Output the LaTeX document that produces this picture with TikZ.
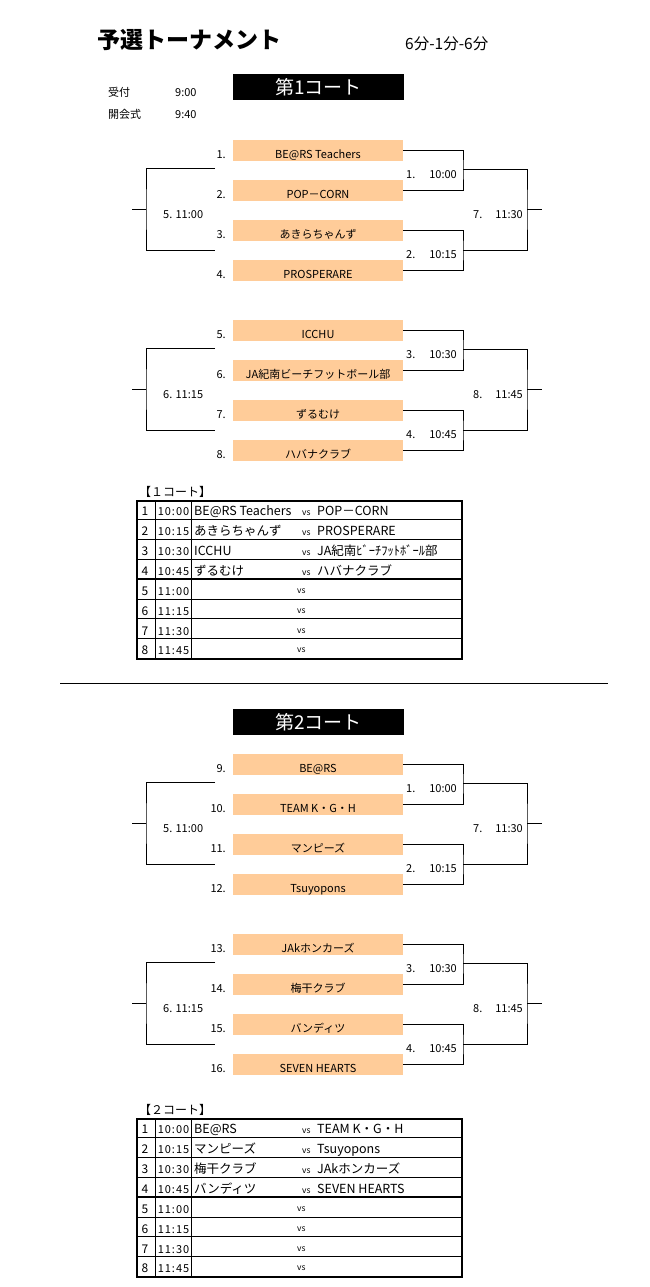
\documentclass[tikz,border=0pt]{standalone}
\usepackage{fontspec}
\setmainfont{Noto Sans CJK JP}
\newfontfamily\timefont[LetterSpace=9]{Noto Sans CJK JP}
\definecolor{peach}{RGB}{255,204,153}

\tikzset{
  team/.style={fill=peach, minimum width=170pt, minimum height=21pt, inner sep=0pt,
    text height=15pt, text depth=0pt, font=\fontsize{11}{13}\selectfont},
  seed/.style={anchor=base east, inner sep=0pt, font=\fontsize{11}{13}\selectfont},
  lbl/.style={inner sep=0pt, font=\fontsize{11}{13}\selectfont},
  court/.style={fill=black, text=white, minimum width=171pt, minimum height=26pt,
    inner sep=0pt, font=\fontsize{19}{21}\selectfont},
  bline/.style={line width=1pt},
  cell/.style={anchor=base, inner sep=0pt, font=\fontsize{12}{14}\selectfont},
  celltime/.style={cell, font=\timefont\fontsize{11}{13}\selectfont},
  cellname/.style={cell, anchor=base west, font=\fontsize{12.5}{14}\selectfont},
  vs/.style={anchor=base west, inner sep=0pt, font=\fontsize{8.5}{9}\selectfont},
  frame/.style={draw, line width=2pt, minimum width=325pt, minimum height=158.4pt, inner sep=0pt},
}

\begin{document}
\begin{tikzpicture}[x=1pt, y=-1pt]
    \useasboundingbox (0,0) rectangle (650,1287);

    % heading
    \node [anchor=base west, inner sep=0pt, font=\fontsize{23}{26}\selectfont\bfseries] (title) at (97,49) {予選トーナメント};
    \node [lbl, anchor=base west, font=\fontsize{15.5}{17}\selectfont] (timing) at (405,50) {6分-1分-6分};
    \node [lbl, anchor=base west] (uketsuke) at (108,97) {受付};
    \node [lbl, anchor=base west] (uketime) at (175,97) {9:00};
    \node [lbl, anchor=base west] (kaikai) at (108,118) {開会式};
    \node [lbl, anchor=base west] (kaitime) at (175,118) {9:40};

    \node [court] (court1) at (318.5,87) {第1コート};
    \node [court] (court2) at (318.5,722) {第2コート};

    \draw [line width=1pt] (60,683) -- (608,683);

    % teams
    \foreach \n/\y/\name in {
        1/140/BE@RS Teachers, 2/180/POP－CORN, 3/220/あきらちゃんず, 4/260/PROSPERARE,
        5/320/ICCHU, 6/360/JA紀南ビーチフットボール部, 7/400/ずるむけ, 8/440/ハバナクラブ,
        9/754/BE@RS, 10/794/TEAM K・G・H, 11/834/マンピーズ, 12/874/Tsuyopons,
        13/934/JAkホンカーズ, 14/974/梅干クラブ, 15/1014/バンディツ, 16/1054/SEVEN HEARTS}{
        \node [team] (t\n) at (318,\y+10.5) {\name};
        \node [seed] (s\n) at (226,\y+18) {\n.};
    }

    % brackets
    \foreach \g/\fa/\gy/\na/\ta/\nb/\tb/\ltx/\nr/\tr in {
        1/1/140/1./10:00/2./10:15/5. 11:00/7./11:30,
        2/5/320/3./10:30/4./10:45/6. 11:15/8./11:45,
        3/9/754/1./10:00/2./10:15/5. 11:00/7./11:30,
        4/13/934/3./10:30/4./10:45/6. 11:15/8./11:45}{
        \pgfmathtruncatemacro\ib{\fa+1}
        \pgfmathtruncatemacro\ic{\fa+2}
        \pgfmathtruncatemacro\id{\fa+3}
        \coordinate (ru\g) at (463,\gy+29);
        \coordinate (rl\g) at (463,\gy+110.5);
        \coordinate (rm\g) at (527,\gy+69.5);
        \coordinate (re\g) at (542,\gy+69.5);
        \coordinate (lu\g) at (215,\gy+28.5);
        \coordinate (ll\g) at (215,\gy+110.5);
        \coordinate (lm\g) at (146,\gy+69.5);
        \coordinate (le\g) at (132,\gy+69.5);

        \draw [bline] (t\fa.east) -| (ru\g) |- (t\ib.east);
        \draw [bline] (t\ic.east) -| (rl\g) |- (t\id.east);
        \draw [bline] (ru\g) -| (rm\g) |- (rl\g);
        \draw [bline] (rm\g) -- (re\g);
        \draw [bline] (lu\g) -| (lm\g) |- (ll\g);
        \draw [bline] (lm\g) -- (le\g);

        \node [lbl, anchor=base west] (ma\g) at (406,\gy+38) {\na};
        \node [lbl, anchor=base east] (mta\g) at (457,\gy+38) {\ta};
        \node [lbl, anchor=base west] (mb\g) at (406,\gy+118) {\nb};
        \node [lbl, anchor=base east] (mtb\g) at (457,\gy+118) {\tb};
        \node [lbl, anchor=base west] (ml\g) at (163,\gy+78) {\ltx};
        \node [lbl, anchor=base west] (mr\g) at (473,\gy+78) {\nr};
        \node [lbl, anchor=base east] (mtr\g) at (523,\gy+78) {\tr};
    }

    % match tables
    \foreach \k/\ty/\hd in {1/500/【１コート】, 2/1118/【２コート】}{
        \node [lbl, anchor=base west, font=\fontsize{12}{14}\selectfont] (hd\k) at (139,\ty-4) {\hd};
        \node [frame, anchor=north west] (tab\k) at (136,\ty) {};
        \foreach \j in {1,...,7}
            \draw [line width=0.8pt] (136,\ty+\j*19.8) -- (461,\ty+\j*19.8);
        \draw [line width=2pt] (136,\ty+4*19.8) -- (461,\ty+4*19.8);
        \draw [line width=0.8pt] (155,\ty) -- (155,\ty+158.4);
        \draw [line width=0.8pt] (191,\ty) -- (191,\ty+158.4);
        \foreach \r/\tm in {5/11:00, 6/11:15, 7/11:30, 8/11:45}{
            \node [cell] (no\k-\r) at (145,\ty+\r*19.8-3.5) {\r};
            \node [celltime] (tm\k-\r) at (173.5,\ty+\r*19.8-3.5) {\tm};
            \node [vs] (vs\k-\r) at (297,\ty+\r*19.8-5.5) {vs};
        }
    }
    \foreach \r/\tm/\ha/\hb in {
        1/10:00/BE@RS Teachers/POP－CORN, 2/10:15/あきらちゃんず/PROSPERARE,
        3/10:30/ICCHU/JA紀南ﾋﾞｰﾁﾌｯﾄﾎﾞｰﾙ部, 4/10:45/ずるむけ/ハバナクラブ}{
        \node [cell] (no1-\r) at (145,500+\r*19.8-4) {\r};
        \node [celltime] (tm1-\r) at (173.5,500+\r*19.8-4) {\tm};
        \node [cellname] (ha1-\r) at (194,500+\r*19.8-4) {\ha};
        \node [vs] (vs1-\r) at (302,500+\r*19.8-4) {vs};
        \node [cellname] (hb1-\r) at (317,500+\r*19.8-4) {\hb};
    }
    \foreach \r/\tm/\ha/\hb in {
        1/10:00/BE@RS/TEAM K・G・H, 2/10:15/マンピーズ/Tsuyopons,
        3/10:30/梅干クラブ/JAkホンカーズ, 4/10:45/バンディツ/SEVEN HEARTS}{
        \node [cell] (no2-\r) at (145,1118+\r*19.8-4) {\r};
        \node [celltime] (tm2-\r) at (173.5,1118+\r*19.8-4) {\tm};
        \node [cellname] (ha2-\r) at (194,1118+\r*19.8-4) {\ha};
        \node [vs] (vs2-\r) at (302,1118+\r*19.8-4) {vs};
        \node [cellname] (hb2-\r) at (317,1118+\r*19.8-4) {\hb};
    }
\end{tikzpicture}
\end{document}
